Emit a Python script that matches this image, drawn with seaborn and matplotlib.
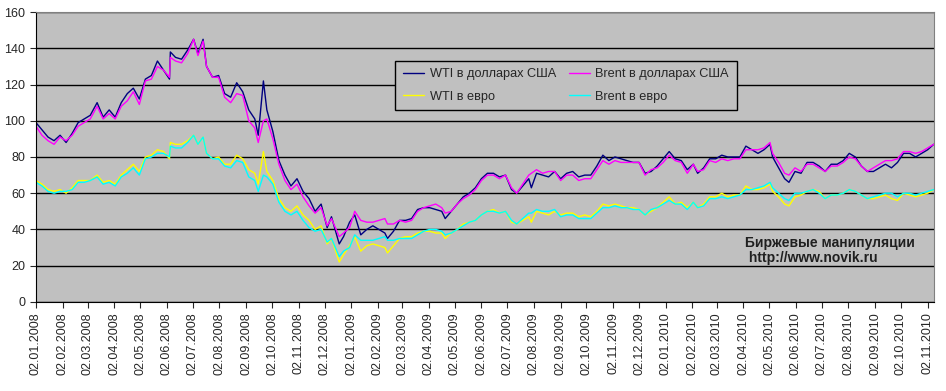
"""Нефть WTI и Brent в долларах и евро, 2008-2010"""
import pandas as pd
import matplotlib
matplotlib.use("Agg")
import matplotlib.pyplot as plt
import matplotlib.dates as mdates
import seaborn as sns

# даты (примерно раз в неделю) и цены
dates = [
    "2008-01-02", "2008-01-09", "2008-01-16", "2008-01-23", "2008-01-30", "2008-02-06",
    "2008-02-13", "2008-02-20", "2008-02-27", "2008-03-05", "2008-03-13", "2008-03-20",
    "2008-03-27", "2008-04-03", "2008-04-10", "2008-04-17", "2008-04-24", "2008-05-01",
    "2008-05-08", "2008-05-15", "2008-05-22", "2008-05-29", "2008-06-05", "2008-06-06",
    "2008-06-12", "2008-06-19", "2008-06-26", "2008-07-03", "2008-07-08", "2008-07-14",
    "2008-07-18", "2008-07-25", "2008-08-01", "2008-08-08", "2008-08-15", "2008-08-22",
    "2008-08-29", "2008-09-05", "2008-09-12", "2008-09-16", "2008-09-22", "2008-09-26",
    "2008-10-03", "2008-10-10", "2008-10-17", "2008-10-24", "2008-10-31", "2008-11-07",
    "2008-11-14", "2008-11-21", "2008-11-28", "2008-12-05", "2008-12-10", "2008-12-19",
    "2008-12-24", "2008-12-31",
    "2009-01-06", "2009-01-13", "2009-01-20", "2009-01-27", "2009-02-03", "2009-02-10",
    "2009-02-13", "2009-02-20", "2009-02-27", "2009-03-06", "2009-03-13", "2009-03-20",
    "2009-03-27", "2009-04-03", "2009-04-10", "2009-04-17", "2009-04-21", "2009-04-28",
    "2009-05-05", "2009-05-12", "2009-05-19", "2009-05-26", "2009-06-02", "2009-06-09",
    "2009-06-16", "2009-06-23", "2009-06-30", "2009-07-07", "2009-07-13", "2009-07-20",
    "2009-07-27", "2009-07-30", "2009-08-05", "2009-08-12", "2009-08-19", "2009-08-26",
    "2009-09-02", "2009-09-09", "2009-09-16", "2009-09-23", "2009-09-30", "2009-10-07",
    "2009-10-14", "2009-10-21", "2009-10-28", "2009-11-04", "2009-11-11", "2009-11-18",
    "2009-11-25", "2009-12-02", "2009-12-09", "2009-12-16", "2009-12-23", "2009-12-30",
    "2010-01-06", "2010-01-13", "2010-01-20", "2010-01-27", "2010-02-03", "2010-02-08",
    "2010-02-15", "2010-02-22", "2010-03-01", "2010-03-08", "2010-03-15", "2010-03-22",
    "2010-03-29", "2010-04-05", "2010-04-12", "2010-04-19", "2010-04-26", "2010-05-03",
    "2010-05-06", "2010-05-13", "2010-05-20", "2010-05-25", "2010-06-01", "2010-06-08",
    "2010-06-15", "2010-06-22", "2010-06-29", "2010-07-06", "2010-07-13", "2010-07-20",
    "2010-07-27", "2010-08-03", "2010-08-10", "2010-08-17", "2010-08-24", "2010-08-31",
    "2010-09-07", "2010-09-14", "2010-09-21", "2010-09-28", "2010-10-05", "2010-10-12",
    "2010-10-19", "2010-10-26", "2010-11-02", "2010-11-09",
]

wti_usd = [
    99, 95, 91, 89, 92, 88, 93, 99, 101, 103, 110, 102, 106, 102, 110, 115, 118, 112,
    123, 125, 133, 128, 123, 138, 135, 134, 139, 145, 137, 145, 130, 124, 125, 115,
    113, 121, 116, 106, 101, 92, 122, 106, 94, 78, 70, 64, 68, 61, 57, 50, 54, 41,
    47, 32, 36, 44,
    48, 37, 40, 42, 40, 38, 35, 39, 45, 45, 46, 51, 52, 52, 51, 50, 46, 50,
    54, 58, 60, 63, 68, 71, 71, 69, 70, 62, 60, 64, 68, 63, 71, 70, 69, 72,
    68, 71, 72, 69, 70, 70, 75, 81, 78, 80, 79, 78, 77, 77, 71, 72, 75, 79,
    83, 79, 78, 73, 76, 71, 74, 79, 79, 81, 80, 80, 80, 86, 84, 82, 84, 87,
    80, 74, 68, 66, 72, 71, 77, 77, 75, 72, 76, 76, 78, 82, 80, 75, 72, 72,
    74, 76, 74, 77, 82, 82, 80, 82, 84, 87,
]

brent_usd = [
    97, 92, 89, 87, 91, 89, 92, 97, 99, 101, 108, 101, 104, 101, 108, 111, 116, 109,
    122, 123, 130, 128, 124, 135, 133, 132, 137, 145, 136, 144, 130, 124, 124, 113,
    110, 115, 114, 100, 96, 88, 100, 101, 90, 76, 67, 62, 65, 58, 53, 49, 52, 42,
    46, 36, 38, 41,
    50, 45, 44, 44, 45, 46, 43, 43, 45, 44, 45, 50, 52, 53, 54, 52, 49, 50,
    54, 57, 59, 62, 67, 70, 70, 68, 70, 63, 60, 65, 70, 71, 73, 71, 72, 72,
    67, 70, 70, 67, 68, 68, 73, 78, 76, 78, 77, 77, 77, 77, 70, 73, 74, 77,
    81, 78, 77, 71, 76, 72, 73, 78, 77, 79, 78, 79, 79, 84, 84, 84, 85, 88,
    82, 77, 71, 70, 74, 72, 76, 76, 74, 72, 75, 75, 77, 80, 79, 75, 72, 74,
    76, 78, 78, 79, 83, 83, 82, 83, 85, 87,
]

wti_eur = [
    67, 65, 62, 61, 62, 60, 63, 67, 67, 67, 70, 66, 67, 65, 70, 73, 76, 72,
    80, 81, 84, 83, 79, 88, 87, 87, 89, 92, 87, 91, 82, 79, 80, 76,
    76, 81, 79, 73, 71, 65, 83, 72, 67, 57, 52, 50, 53, 48, 45, 40, 42, 32,
    35, 22, 26, 31,
    36, 28, 31, 32, 31, 30, 27, 31, 35, 36, 36, 38, 39, 39, 38, 38, 35, 38,
    40, 43, 44, 45, 48, 50, 51, 49, 50, 44, 43, 45, 47, 44, 50, 49, 48, 50,
    48, 49, 49, 47, 48, 47, 50, 54, 53, 54, 53, 52, 52, 51, 48, 50, 52, 55,
    58, 54, 55, 52, 55, 52, 54, 58, 58, 60, 58, 59, 59, 64, 62, 62, 63, 65,
    61, 58, 54, 53, 58, 59, 61, 62, 61, 57, 59, 59, 60, 62, 61, 59, 57, 57,
    58, 59, 57, 56, 60, 59, 58, 59, 60, 62,
]

brent_eur = [
    66, 64, 61, 60, 61, 61, 62, 66, 66, 67, 69, 65, 66, 64, 69, 71, 74, 70,
    79, 80, 82, 82, 80, 86, 85, 85, 88, 92, 87, 91, 82, 79, 79, 75,
    74, 78, 77, 69, 67, 61, 70, 69, 65, 55, 50, 48, 50, 45, 41, 39, 40, 33,
    35, 25, 28, 30,
    37, 34, 34, 34, 35, 36, 34, 34, 35, 35, 35, 37, 39, 40, 40, 39, 37, 38,
    40, 42, 44, 45, 48, 50, 50, 49, 50, 45, 43, 46, 49, 49, 51, 50, 50, 51,
    47, 48, 48, 46, 46, 46, 49, 52, 52, 53, 52, 52, 51, 51, 48, 51, 52, 54,
    56, 54, 54, 51, 55, 52, 53, 57, 57, 58, 57, 58, 59, 62, 62, 63, 64, 66,
    63, 60, 57, 56, 60, 60, 61, 62, 60, 57, 59, 59, 60, 62, 61, 59, 57, 58,
    59, 60, 60, 58, 60, 60, 59, 60, 61, 62,
]

series_names = ["WTI в долларах США", "Brent в долларах США", "WTI в евро", "Brent в евро"]
series_colors = ["#000080", "#FF00FF", "#FFFF00", "#00FFFF"]
# подписи по оси X: второе число каждого месяца
tick_dates = pd.date_range("2008-01-01", "2010-11-01", freq="MS") + pd.Timedelta(days=1)

df = pd.DataFrame({"date": pd.to_datetime(dates)})
for name, vals in zip(series_names, [wti_usd, brent_usd, wti_eur, brent_eur]):
    df[name] = vals
long_df = df.melt(id_vars="date", var_name="series", value_name="price")

sns.set_style("white", {"axes.facecolor": "#C0C0C0"})
plt.rcParams["font.family"] = ["Liberation Sans", "DejaVu Sans"]

fig = plt.figure(figsize=(9.46, 3.91), dpi=100)
ax = fig.add_axes([0.038, 0.228, 0.949, 0.741])

sns.lineplot(data=long_df, x="date", y="price", hue="series", hue_order=series_names,
             palette=series_colors, linewidth=1.0, ax=ax)

ax.set_ylim(0, 160)
ax.set_yticks(range(0, 161, 20))
ax.set_xlim(pd.Timestamp("2008-01-02"), pd.Timestamp("2010-11-09"))
ax.set_xticks(tick_dates)
ax.xaxis.set_major_formatter(mdates.DateFormatter("%d.%m.%Y"))
ax.tick_params(axis="x", rotation=90, labelsize=9, length=4, direction="out", bottom=True)
ax.tick_params(axis="y", labelsize=9, length=4, direction="out", left=True)
ax.set_xlabel("")
ax.set_ylabel("")
ax.grid(axis="y", color="black", linewidth=1)
ax.set_axisbelow(True)
for side in ["top", "right"]:
    ax.spines[side].set_color("#808080")
for side in ["left", "bottom"]:
    ax.spines[side].set_color("black")

handles, labels = ax.get_legend_handles_labels()
order = [0, 2, 1, 3]
leg = ax.legend([handles[i] for i in order], [labels[i] for i in order], ncol=2,
                loc="upper left", bbox_to_anchor=(0.40, 0.832), fontsize=9.2,
                frameon=True, fancybox=False, edgecolor="black", framealpha=1,
                handlelength=1.7, handletextpad=0.4, columnspacing=1.0,
                borderpad=0.6, labelspacing=0.8, borderaxespad=0)
leg.get_frame().set_linewidth(1)

ax.text(0.79, 0.228, "Биржевые манипуляции\n http://www.novik.ru", transform=ax.transAxes,
        fontsize=10, fontweight="bold", color="#202020", linespacing=1.1, va="top")

fig.savefig("out.png", dpi=100)
